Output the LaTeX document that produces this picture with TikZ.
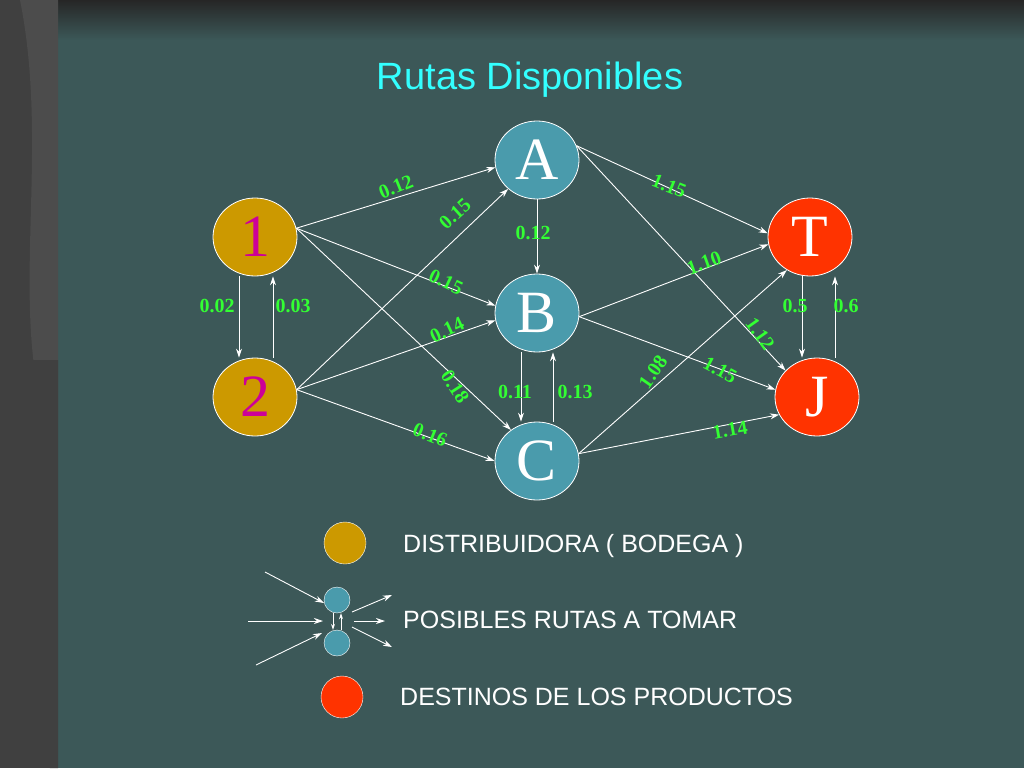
\documentclass[tikz,border=0pt]{standalone}
\usepackage{fontspec}
\setmainfont{Liberation Serif}
\newfontfamily\sans{Liberation Sans}
\usetikzlibrary{shapes.geometric,arrows.meta}
\begin{document}
\begin{tikzpicture}[x=1pt,y=-1pt,
  nd/.style={ellipse,draw=white,line width=0.8pt,minimum width=84pt,minimum height=78pt,inner sep=0pt,font=\fontsize{60}{60}\selectfont},
  gold/.style={nd,fill=gold,text=mag},
  teal/.style={nd,fill=tealn,text=white},
  red/.style={nd,fill=redn,text=white},
  ar/.style={draw=white,line width=0.9pt,-{Stealth[length=9pt,width=6pt]}},
  lb/.style={text=lgreen,font=\bfseries\fontsize{20}{20}\selectfont,inner sep=0pt},
  lg/.style={text=white,font=\sans\fontsize{25}{25}\selectfont,anchor=west,inner sep=0pt}]
\definecolor{bg}{HTML}{3C5858}
\definecolor{gold}{HTML}{CC9900}
\definecolor{mag}{HTML}{CC0099}
\definecolor{tealn}{HTML}{4A9BAC}
\definecolor{redn}{HTML}{FF3300}
\definecolor{lgreen}{HTML}{33FF33}
\definecolor{ttl}{HTML}{33FFFF}
\useasboundingbox (0,0) rectangle (1024,768);
\fill[bg] (0,0) rectangle (1024,768);
\shade[top color=black!85,bottom color=bg] (0,0) rectangle (1024,40);
\fill[black!75] (0,0) rectangle (58,768);
\fill[gray!60!black] (20,0) .. controls (50,150) and (10,300) .. (45,420) -- (58,420) -- (58,0) -- cycle;
\fill[gray!50!black] (30,360) .. controls (58,450) and (20,600) .. (50,768) -- (58,768) -- (58,360) -- cycle;
\node[text=ttl,font=\sans\fontsize{38}{38}\selectfont] (title) at (530,80) {Rutas Disponibles};
\node[gold] (n1) at (255,237) {1};
\node[gold] (n2) at (255,397) {2};
\node[teal] (A) at (537,160) {A};
\node[teal] (B) at (537,313) {B};
\node[teal] (C) at (537,461) {C};
\node[red] (T) at (810,237) {T};
\node[red] (J) at (817,397) {J};
\draw[ar] ([xshift=-16]n1.south) -- ([xshift=-16]n2.north);
\draw[ar] ([xshift=18]n2.north) -- ([xshift=18]n1.south);
\draw[ar] (A) -- (B);
\draw[ar] ([xshift=-16]B.south) -- ([xshift=-16]C.north);
\draw[ar] ([xshift=16]C.north) -- ([xshift=16]B.south);
\draw[ar] ([xshift=-8]T.south) -- ([xshift=-15]J.north);
\draw[ar] ([xshift=18]J.north) -- ([xshift=25]T.south);
\draw[ar] (n1.12) -- (A.190);
\draw[ar] (n1.12) -- (B.170);
\draw[ar] (n1.12) -- (C.130);
\draw[ar] (n2.10) -- (A.225);
\draw[ar] (n2.10) -- (B.190);
\draw[ar] (n2.10) -- (C.180);
\draw[ar] (A.20) -- (T.175);
\draw[ar] (A.20) -- (J.140);
\draw[ar] (B.355) -- (T.190);
\draw[ar] (B.355) -- (J.170);
\draw[ar] (C.10) -- (T.235);
\draw[ar] (C.10) -- (J.205);
\node[lb,rotate=22] at (396,187) {0.12};
\node[lb,rotate=42] at (455,214) {0.15};
\node[lb] at (533,233) {0.12};
\node[lb,rotate=-25] at (446,282) {0.15};
\node[lb,rotate=25] at (447,330) {0.14};
\node[lb,rotate=-57] at (455,387) {0.18};
\node[lb] at (515,392) {0.11};
\node[lb] at (575,392) {0.13};
\node[lb,rotate=-22] at (430,435) {0.16};
\node[lb,rotate=-22] at (669,186) {1.15};
\node[lb,rotate=20] at (704,263) {1.10};
\node[lb,rotate=-55] at (760,334) {1.12};
\node[lb,rotate=55] at (653,372) {1.08};
\node[lb,rotate=-28] at (720,370) {1.15};
\node[lb,rotate=10] at (730,430) {1.14};
\node[lb] at (217,306) {0.02};
\node[lb] at (293,306) {0.03};
\node[lb] at (795,306) {0.5};
\node[lb] at (846,306) {0.6};
\node[circle,draw=white,fill=gold,minimum size=42pt,inner sep=0pt] (L1) at (345,543) {};
\node[lg] (T1) at (403,546) {DISTRIBUIDORA ( BODEGA )};
\node[circle,draw=white,fill=tealn,minimum size=26pt,inner sep=0pt] (La) at (337,600) {};
\node[circle,draw=white,fill=tealn,minimum size=26pt,inner sep=0pt] (Lb) at (337,643) {};
\node[lg] (T2) at (403,620) {POSIBLES RUTAS A TOMAR};
\node[circle,draw=white,fill=redn,minimum size=42pt,inner sep=0pt] (L3) at (342,697) {};
\node[lg] (T3) at (400,697) {DESTINOS DE LOS PRODUCTOS};
\coordinate (i1) at (265,572); \coordinate (i2) at (248,621); \coordinate (i3) at (256,665);
\coordinate (o1) at (392,595); \coordinate (o2) at (385,621); \coordinate (o3) at (392,647);
\coordinate (c1) at (324,603); \coordinate (c2) at (323,621); \coordinate (c3) at (322,633);
\coordinate (s1) at (352,612); \coordinate (s2) at (354,621); \coordinate (s3) at (352,627);
\draw[ar] (i1) -- (c1);
\draw[ar] (i2) -- (c2);
\draw[ar] (i3) -- (c3);
\draw[ar] (s1) -- (o1);
\draw[ar] (s2) -- (o2);
\draw[ar] (s3) -- (o3);
\draw[ar,-{Stealth[length=6pt,width=4pt]}] ([xshift=-4]La.south) -- ([xshift=-4]Lb.north);
\draw[ar,-{Stealth[length=6pt,width=4pt]}] ([xshift=4]Lb.north) -- ([xshift=4]La.south);
\end{tikzpicture}
\end{document}
